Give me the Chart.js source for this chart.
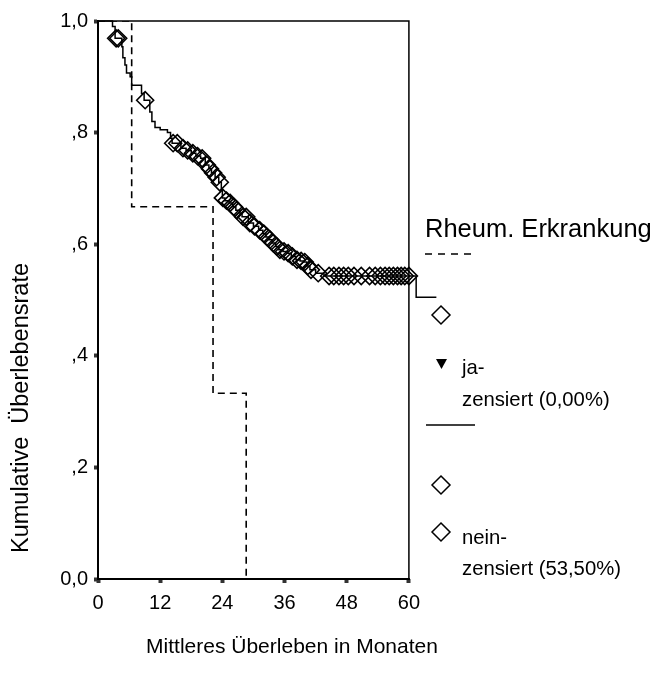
<!DOCTYPE html>
<html>
<head>
<meta charset="utf-8">
<script src="https://cdn.jsdelivr.net/npm/chart.js@4.4.1/dist/chart.umd.min.js"></script>
<style>
  html, body { margin: 0; padding: 0; background: #fff; }
</style>
</head>
<body>
<canvas id="chart" width="657" height="675"></canvas>
<script>
const FONT = '"Liberation Sans", Arial, Helvetica, sans-serif';

const xTicks = [0, 12, 24, 36, 48, 60];
const yTicks = [0, 0.2, 0.4, 0.6, 0.8, 1.0];
const yTickLabels = ["0,0", ",2", ",4", ",6", ",8", "1,0"];

// Rheum. Erkrankung = ja: event times (months) and survival after event
const jaTimes = [0, 6.5, 22.2, 28.6];
const jaSurv = [1, 0.667, 0.333, 0];

// Rheum. Erkrankung = nein
const neinTimes = [0, 2.8, 3.3, 4.6, 4.8, 5.2, 5.5, 6.2, 6.5, 8.4,
  8.9, 10.0, 10.4, 11.0, 12.0, 13.4, 14.0, 14.3, 16.0, 17.0,
  18.0, 18.9, 19.8, 20.7, 21.4, 21.9, 22.6, 23.3, 23.8, 24.0,
  24.5, 25.3, 26.0, 26.6, 27.4, 27.8, 29.0, 30.0, 31.0, 31.8,
  32.4, 33.0, 33.6, 34.3, 34.9, 35.7, 36.5, 37.3, 38.2, 39.0,
  39.7, 40.3, 40.9, 42.0, 43.6, 61.4, 65.3];
const neinSurv = [1, 0.99, 0.969, 0.954, 0.934, 0.921, 0.907, 0.900, 0.885, 0.870,
  0.858, 0.837, 0.820, 0.809, 0.805, 0.800, 0.790, 0.781, 0.772, 0.768,
  0.763, 0.758, 0.754, 0.742, 0.735, 0.728, 0.720, 0.711, 0.697, 0.683,
  0.678, 0.674, 0.667, 0.661, 0.655, 0.649, 0.638, 0.632, 0.625, 0.619,
  0.613, 0.608, 0.602, 0.596, 0.590, 0.587, 0.584, 0.578, 0.572, 0.570,
  0.568, 0.561, 0.554, 0.548, 0.543, 0.505, 0.505];
// censored observations (months)
const neinCensored = [3.5, 3.9, 9.1, 14.5, 15.3, 16.4, 17.3, 18.3, 19.2, 20.1,
  21.0, 21.6, 22.2, 22.9, 23.5, 24.1, 24.8, 25.5, 26.2, 26.8,
  28.0, 28.6, 29.3, 30.2, 31.2, 32.0, 32.6, 33.2, 33.8, 34.5,
  35.1, 35.9, 36.7, 37.5, 38.4, 39.2, 39.9, 40.5, 41.1, 42.5,
  44.6, 45.5, 46.5, 47.4, 48.3, 49.4, 50.8, 52.4, 53.5, 54.5,
  55.4, 56.2, 57.0, 57.8, 58.5, 59.2, 60.0];

function survAt(t) {
  let s = 1;
  for (let i = 0; i < neinTimes.length; i++) {
    if (neinTimes[i] <= t) s = neinSurv[i];
  }
  return s;
}

const jaData = jaTimes.map((t, i) => ({x: t, y: jaSurv[i]}));
const neinData = neinTimes.map((t, i) => ({x: t, y: neinSurv[i]}));
const censData = neinCensored.map(t => ({x: t, y: survAt(t)}));

function diamond(ctx, x, y, r) {
  ctx.beginPath();
  ctx.moveTo(x, y - r);
  ctx.lineTo(x + r, y);
  ctx.lineTo(x, y + r);
  ctx.lineTo(x - r, y);
  ctx.closePath();
  ctx.stroke();
}

// frame: x axis runs to 60, the curve tail goes past it
const extras = {
  id: "extras",
  beforeDatasetsDraw(chart) {
    const {ctx, chartArea: a} = chart;
    const xr = chart.scales.x.getPixelForValue(60);
    ctx.save();
    ctx.strokeStyle = "#000";
    ctx.lineWidth = 1.5;
    ctx.beginPath();
    ctx.moveTo(a.left, a.top);
    ctx.lineTo(xr, a.top);
    ctx.lineTo(xr, a.bottom);
    ctx.stroke();
    ctx.lineWidth = 2;
    ctx.beginPath();
    ctx.moveTo(a.left - 1, a.bottom);
    ctx.lineTo(xr + 1, a.bottom);
    ctx.stroke();
    ctx.restore();
  },
  afterDraw(chart) {
    const ctx = chart.ctx;
    ctx.save();
    ctx.fillStyle = "#000";
    ctx.strokeStyle = "#000";

    // axis titles
    ctx.textAlign = "center";
    ctx.textBaseline = "middle";
    ctx.font = "21px " + FONT;
    ctx.fillText("Mittleres Überleben in Monaten", 292, 647);
    ctx.save();
    ctx.translate(22, 408);
    ctx.rotate(-Math.PI / 2);
    ctx.font = "23.5px " + FONT;
    ctx.fillText("Kumulative  Überlebensrate", 0, 0);
    ctx.restore();

    // legend
    ctx.textAlign = "left";
    ctx.textBaseline = "alphabetic";
    ctx.font = "25.5px " + FONT;
    ctx.fillText("Rheum. Erkrankung", 425, 237);

    ctx.lineWidth = 1.5;
    ctx.setLineDash([7, 6]);
    ctx.beginPath();
    ctx.moveTo(425, 254);
    ctx.lineTo(476, 254);
    ctx.stroke();
    ctx.setLineDash([]);

    diamond(ctx, 441, 315, 9);

    ctx.beginPath();
    ctx.moveTo(436, 359);
    ctx.lineTo(447, 359);
    ctx.lineTo(441.5, 369);
    ctx.closePath();
    ctx.fill();

    ctx.font = "20.3px " + FONT;
    ctx.fillText("ja-", 462, 374);
    ctx.fillText("zensiert (0,00%)", 462, 406);

    ctx.beginPath();
    ctx.moveTo(426, 425);
    ctx.lineTo(475, 425);
    ctx.stroke();

    diamond(ctx, 441, 485, 9);
    diamond(ctx, 441, 532, 9);
    ctx.fillText("nein-", 462, 544);
    ctx.fillText("zensiert (53,50%)", 462, 575);
    ctx.restore();
  }
};

new Chart(document.getElementById("chart"), {
  type: "line",
  data: {
    datasets: [
      {
        label: "ja",
        data: jaData,
        stepped: true,
        borderColor: "#000",
        borderWidth: 1.6,
        borderDash: [7, 5],
        pointRadius: 0,
        fill: false
      },
      {
        label: "nein",
        data: neinData,
        stepped: true,
        borderColor: "#000",
        borderWidth: 1.5,
        pointRadius: 0,
        fill: false,
        clip: false
      },
      {
        label: "nein zensiert",
        data: censData,
        showLine: false,
        pointStyle: "rectRot",
        pointRadius: 8.5,
        pointBorderWidth: 1.6,
        pointBorderColor: "#000",
        pointBackgroundColor: "rgba(0,0,0,0)",
        clip: false
      }
    ]
  },
  options: {
    responsive: false,
    animation: false,
    devicePixelRatio: 1,
    layout: {padding: {left: 0, top: 21, right: 217, bottom: 0}},
    plugins: {
      legend: {display: false},
      tooltip: {enabled: false}
    },
    scales: {
      x: {
        type: "linear",
        min: 0,
        max: 66,
        afterFit: s => { s.height = 96; },
        afterBuildTicks: s => { s.ticks = xTicks.map(v => ({value: v})); },
        ticks: {
          color: "#000",
          font: {family: FONT, size: 20},
          padding: 8,
          maxRotation: 0
        },
        grid: {
          drawOnChartArea: false,
          drawTicks: true,
          tickLength: 4,
          tickWidth: 4,
          tickColor: "#333"
        },
        border: {display: false}
      },
      y: {
        type: "linear",
        min: 0,
        max: 1,
        afterFit: s => { s.width = 98; },
        afterBuildTicks: s => { s.ticks = yTicks.map(v => ({value: v})); },
        ticks: {
          color: "#000",
          font: {family: FONT, size: 20},
          padding: 6,
          callback: (v) => yTickLabels[yTicks.findIndex(t => Math.abs(t - v) < 1e-6)]
        },
        grid: {
          drawOnChartArea: false,
          drawTicks: true,
          tickLength: 4,
          tickWidth: 4,
          tickColor: "#333"
        },
        border: {color: "#000", width: 2}
      }
    }
  },
  plugins: [extras]
});
</script>
</body>
</html>
